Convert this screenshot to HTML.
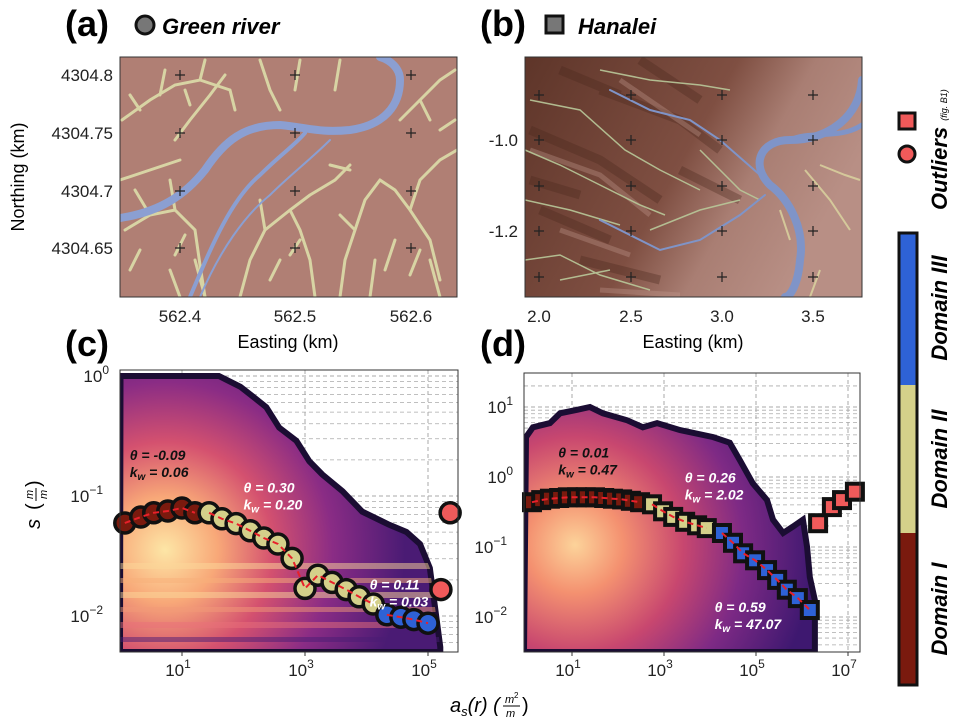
<!DOCTYPE html>
<html><head><meta charset="utf-8"><style>
body{margin:0;background:#fff;width:957px;height:725px;overflow:hidden}
svg{display:block;font-family:"Liberation Sans",sans-serif}
.lbl{font-weight:bold;font-size:36px}
.ttl{font-style:italic;font-weight:bold;font-size:22px;font-stretch:condensed}
.tk{font-size:17px;fill:#222}
.ann{font-style:italic;font-weight:bold;font-size:14px}
</style></head><body>
<svg id="fig" width="957" height="725" viewBox="0 0 957 725" xmlns="http://www.w3.org/2000/svg">
<defs>
<radialGradient id="gc" cx="165" cy="550" r="240" gradientUnits="userSpaceOnUse">
<stop offset="0" stop-color="#fde6a6"/><stop offset="0.22" stop-color="#f8a878"/><stop offset="0.45" stop-color="#d4516f"/><stop offset="0.7" stop-color="#8a2c85"/><stop offset="1" stop-color="#4a1b74"/></radialGradient>
<radialGradient id="gd" cx="575" cy="545" r="240" gradientUnits="userSpaceOnUse">
<stop offset="0" stop-color="#fcd39a"/><stop offset="0.2" stop-color="#f49170"/><stop offset="0.45" stop-color="#c8476f"/><stop offset="0.7" stop-color="#7e2a85"/><stop offset="1" stop-color="#3e1870"/></radialGradient>
<linearGradient id="mb" x1="0" y1="0" x2="1" y2="0.4"><stop offset="0" stop-color="#5e3529"/><stop offset="0.55" stop-color="#7f4f42"/><stop offset="0.75" stop-color="#a97e73"/><stop offset="1" stop-color="#b88f85"/></linearGradient>
<clipPath id="clipC"><rect x="120" y="370" width="338" height="282"/></clipPath>
<clipPath id="clipD"><rect x="524" y="373" width="336" height="279"/></clipPath>
<clipPath id="clipA"><rect x="120" y="57" width="337" height="240"/></clipPath>
<clipPath id="clipB"><rect x="525" y="57" width="337" height="240"/></clipPath>
</defs>

<text class="lbl" x="65" y="36">(a)</text>
<circle cx="145" cy="25" r="9" fill="#777" stroke="#111" stroke-width="3"/>
<text class="ttl" x="162" y="34">Green river</text>
<text class="lbl" x="480" y="36">(b)</text>
<rect x="546" y="16" width="17" height="17" fill="#777" stroke="#111" stroke-width="3"/>
<text class="ttl" x="578" y="34">Hanalei</text>
<text class="lbl" x="65" y="356">(c)</text>
<text class="lbl" x="480" y="356">(d)</text>

<g clip-path="url(#clipA)">
<rect x="120" y="57" width="337" height="240" fill="#b07f74"/>
<g fill="none" stroke="#d8d4a4" stroke-width="3" stroke-linecap="round">
<path d="M122 120 L150 100 L175 85 L200 80 L230 90 M160 95 L165 70 M200 80 L205 60 M175 140 L190 120 L210 95 L225 75 M230 90 L235 110 M140 110 L130 95 M185 90 L190 105"/>
<path d="M120 180 L150 170 L180 160 M125 230 L150 215 L175 210 L195 230 L200 265 L205 297 M150 215 L135 190 M175 210 L170 180 M140 250 L130 270 M185 235 L175 255"/>
<path d="M240 297 L250 260 L265 230 L290 210 L310 195 M265 230 L260 200 M290 210 L300 230 L310 260 L315 297 M310 195 L335 180 L350 165 M280 260 L270 280 M300 240 L290 255"/>
<path d="M340 297 L345 260 L355 230 L365 200 L380 180 M355 230 L340 215 M380 180 L395 190 L410 210 L430 240 L440 280 M410 210 L420 180 L440 160 L457 150 M395 240 L385 270 M420 250 L410 275"/>
<path d="M400 120 L420 100 L440 80 L455 70 M420 100 L430 120 M260 60 L270 90 L280 110 M300 60 L295 90 M340 60 L335 90 M205 297 L195 260 M440 297 L430 260 M180 297 L170 270 M370 297 L375 260 M440 130 L455 120 M350 170 L330 165"/>
</g>
<g fill="none" stroke="#8b9fd2" stroke-linecap="round">
<path d="M120 218 C160 212 185 195 205 170 C225 140 245 125 280 125 C310 128 320 133 350 130 C385 125 400 105 400 80 C400 68 390 60 380 57" stroke-width="8"/>
<path d="M190 297 C210 250 230 200 260 175 C280 155 295 145 305 133" stroke-width="4"/>
<path d="M200 297 C220 250 245 215 270 195 C290 175 310 160 330 140" stroke-width="2"/>
</g>
</g>
<rect x="120" y="57" width="337" height="240" fill="none" stroke="#333" stroke-width="1"/>

<g clip-path="url(#clipB)">
<rect x="525" y="57" width="337" height="240" fill="url(#mb)"/>
<g fill="none" stroke="#4a271e" stroke-width="9" opacity="0.35">
<path d="M530 130 L600 160 L660 200 M540 210 L610 240 M600 90 L680 120 L720 150 M580 260 L660 280 M640 60 L700 100 M560 70 L620 95 M530 180 L580 195 M680 170 L740 200"/>
</g>
<g fill="none" stroke="#c29b8f" stroke-width="5" opacity="0.35">
<path d="M530 150 L600 175 L650 215 M560 230 L630 255 M620 80 L700 135 M600 290 L680 295"/>
</g>
<g fill="none" stroke="#b9c99a" stroke-width="1.5" opacity="0.9">
<path d="M525 150 L560 165 L600 185 L640 205 L665 215 M525 200 L570 210 L620 225 M530 100 L580 110 L625 150 L660 170 L700 190 M600 70 L650 80 L700 85 L730 90"/>
<path d="M525 260 L560 255 L600 275 L650 290 M560 280 L610 270 M700 150 L740 190 L760 200 M650 230 L700 210 L740 200"/>
</g>
<g fill="none" stroke="#7f94c8" stroke-linecap="round">
<path d="M610 90 L650 110 L690 120 L720 140 L760 175" stroke-width="2"/>
<path d="M600 220 L630 235 L660 250 L700 240 L740 215 L765 195" stroke-width="2"/>
<path d="M862 80 C860 115 830 140 790 140 C760 140 750 165 770 185 C790 200 805 230 800 260 C798 285 790 297 785 297" stroke-width="8"/>
<path d="M790 140 C810 130 840 140 862 125" stroke-width="5"/>
</g>
<g fill="none" stroke="#dcd7a0" stroke-width="2" opacity="0.8">
<path d="M805 170 L830 200 L850 230 M820 165 L845 175 L860 180 M810 297 L820 270 M780 210 L790 240"/>
</g>
</g>
<rect x="525" y="57" width="337" height="240" fill="none" stroke="#333" stroke-width="1"/>

<g id="mapTicks"></g>
<g id="panelC"></g>
<g id="panelD"></g>

<text x="24" y="177" transform="rotate(-90 24 177)" text-anchor="middle" font-size="18">Northing (km)</text>
<text x="288" y="348" text-anchor="middle" font-size="18">Easting (km)</text>
<text x="693" y="348" text-anchor="middle" font-size="18">Easting (km)</text>
<g transform="translate(34 510) rotate(-90)">
<text x="-14" y="6" font-size="20" font-style="italic" text-anchor="middle">s</text>
<text x="0" y="6" font-size="20">(</text>
<text x="11" y="-1" font-size="11" font-style="italic">m</text>
<line x1="9" y1="2" x2="22" y2="2" stroke="#000" stroke-width="1"/>
<text x="11" y="13" font-size="11" font-style="italic">m</text>
<text x="23" y="6" font-size="20">)</text>
</g>
<g>
<text x="450" y="712" font-size="20" font-style="italic">a<tspan font-size="13" dy="4">s</tspan><tspan dy="-4">(r) (</tspan></text>
<text x="505" y="703" font-size="11" font-style="italic">m</text><text x="514" y="698" font-size="8">2</text>
<line x1="503" y1="706" x2="520" y2="706" stroke="#000"/>
<text x="506" y="717" font-size="11" font-style="italic">m</text>
<text x="522" y="712" font-size="20">)</text>
</g>

<rect x="899" y="113" width="16" height="16" fill="#f05a5a" stroke="#111" stroke-width="3"/>
<circle cx="907" cy="154" r="8" fill="#f05a5a" stroke="#111" stroke-width="3"/>
<text transform="translate(947 210) rotate(-90)" class="ttl" font-size="18">Outliers <tspan font-size="9" font-weight="normal">(fig. B1)</tspan></text>
<g>
<rect x="899" y="233" width="18" height="152" fill="#2e62d6"/>
<rect x="899" y="385" width="18" height="148" fill="#d4d08a"/>
<rect x="899" y="533" width="18" height="152" fill="#7a1a0e"/>
<rect x="899" y="233" width="18" height="452" fill="none" stroke="#111" stroke-width="3"/>
</g>
<text transform="translate(947 308) rotate(-90)" text-anchor="middle" class="ttl" font-size="18">Domain III</text>
<text transform="translate(947 459) rotate(-90)" text-anchor="middle" class="ttl" font-size="18">Domain II</text>
<text transform="translate(947 609) rotate(-90)" text-anchor="middle" class="ttl" font-size="18">Domain I</text>
</svg>
<script>
const cLogX = [0.07,0.33,0.54,0.77,1.0,1.21,1.44,1.65,1.88,2.11,2.33,2.56,2.79,3.0,3.21,3.44,3.67,3.88,4.11,4.33,4.56,4.77,5.0,5.21,5.36];
const cLogY = [-1.225,-1.175,-1.14,-1.125,-1.10,-1.14,-1.14,-1.19,-1.23,-1.29,-1.35,-1.40,-1.52,-1.77,-1.66,-1.72,-1.78,-1.84,-1.90,-1.99,-2.01,-2.03,-2.06,-1.78,-1.14];
const cDomain = [1,1,1,1,1,1,2,2,2,2,2,2,2,2,2,2,2,2,2,3,3,3,3,0,0];
const cEnvX = [0,1.6,1.95,2.15,2.37,2.58,2.86,3.07,3.28,3.61,3.93,4.37,4.65,4.87,5.03,5.2,5.2];
const cEnvY = [0,0,-0.09,-0.17,-0.26,-0.43,-0.54,-0.71,-0.82,-0.96,-1.13,-1.24,-1.30,-1.40,-1.60,-2.26,-2.4];
const dLogX = [0.13,0.33,0.52,0.72,0.91,1.11,1.3,1.5,1.7,1.89,2.09,2.28,2.48,2.74,2.98,3.2,3.46,3.72,3.93,4.26,4.5,4.72,4.98,5.24,5.46,5.67,5.91,6.17,6.35,6.65,6.87,7.15];
const dLogY = [-0.36,-0.33,-0.31,-0.30,-0.29,-0.29,-0.29,-0.29,-0.30,-0.31,-0.32,-0.34,-0.36,-0.39,-0.49,-0.57,-0.64,-0.69,-0.73,-0.8,-0.94,-1.09,-1.19,-1.33,-1.47,-1.61,-1.73,-1.9,-0.66,-0.43,-0.33,-0.21];
const dDomain = [1,1,1,1,1,1,1,1,1,1,1,1,1,2,2,2,2,2,2,3,3,3,3,3,3,3,3,3,0,0,0,0];
const dEnvX = [0,0.15,0.52,0.74,1.11,1.39,1.67,2.2,2.54,2.85,3.35,4.07,4.43,4.65,4.93,5.24,5.37,5.59,5.8,6.02,6.11,6.17,6.28,6.28];
const dEnvY = [0.57,0.71,0.77,0.91,0.96,1.0,0.91,0.81,0.71,0.77,0.67,0.57,0.49,0.24,-0.09,-0.33,-0.61,-0.8,-0.71,-0.61,-1.0,-1.43,-1.76,-2.6];
const cXTicks = [1,3,5], dXTicks = [1,3,5,7];
const cYTicks = [0,-1,-2], dYTicks = [1,0,-1,-2];
const annC = [["θ = -0.09","k","= 0.06",0.15,-0.7,"#111"],["θ = 0.30","k","= 0.20",2.0,-0.97,"#fff"],["θ = 0.11","k","= 0.03",4.05,-1.78,"#fff"]];
const annD = [["θ = 0.01","k","= 0.47",0.7,0.28,"#111"],["θ = 0.26","k","= 2.02",3.45,-0.08,"#fff"],["θ = 0.59","k","= 47.07",4.1,-1.93,"#fff"]];

const NS='http://www.w3.org/2000/svg';
function mk(tag,attrs,parent){const e=document.createElementNS(NS,tag);for(const k in attrs)e.setAttribute(k,attrs[k]);parent.appendChild(e);return e;}
const colors={0:'#f05a5a',1:'#7a1a0e',2:'#d4d08a',3:'#2e62d6'};
const defs=document.querySelector('defs');

function panel(g,o){
  const X=v=>o.x0+(v-o.lx0)*o.sx, Y=v=>o.y0-(v-o.ly0)*o.sy;
  for(let d=Math.floor(o.lyMin);d<=Math.ceil(o.lyMax);d++){
    for(let m=1;m<10;m++){const lv=d+Math.log10(m);if(lv<o.lyMin||lv>o.lyMax)continue;
      const l=mk('line',{x1:o.L,x2:o.R,y1:Y(lv),y2:Y(lv),stroke:'#aaa','stroke-width':m==1?1:0.8,'stroke-dasharray':'4 3'},g);
      
      }
  }
  o.xt.forEach(t=>{const l=mk('line',{x1:X(t),x2:X(t),y1:o.T,y2:o.B,stroke:'#aaa','stroke-dasharray':'4 3'},g);
    
    });
  let pts=o.envX.map((v,i)=>X(v)+','+Y(o.envY[i]));
  pts.push(X(o.envX[o.envX.length-1])+','+o.B, o.L+','+o.B);
  const cp=mk('clipPath',{id:o.id+'env'},defs);
  mk('polygon',{points:pts.join(' ')},cp);
  const cg=mk('g',{'clip-path':o.clip},g);
  const hm=mk('polygon',{points:pts.join(' '),fill:o.grad,stroke:'#1b0d33','stroke-width':6,'stroke-linejoin':'miter'},cg);
  
  
  if(o.stripes){const sg=mk('g',{'clip-path':'url(#'+o.id+'env)'},cg);
    o.stripes.forEach(s=>{const r=mk('rect',{x:o.L,y:s[0],width:s[2],height:s[1],fill:s[3],opacity:0.5},sg);
    
    });}
  o.lx.forEach((v,i)=>{let e;
    if(o.shape=='c') e=mk('circle',{cx:X(v),cy:Y(o.ly[i]),r:10,fill:colors[o.dom[i]],stroke:'#111','stroke-width':3.5},g);
    else e=mk('rect',{x:X(v)-8,y:Y(o.ly[i])-8,width:16,height:16,fill:colors[o.dom[i]],stroke:'#111','stroke-width':4},g);
    
    });
  [1,2,3].forEach(dm=>{const idx=o.dom.map((d,i)=>d==dm?i:-1).filter(i=>i>=0);
    const pl=mk('polyline',{points:idx.map(i=>X(o.lx[i])+','+Y(o.ly[i])).join(' '),fill:'none',stroke:'#e8202a','stroke-width':2,'stroke-dasharray':'6 4'},g);
    
    });
  o.ann.forEach(a=>{const t=mk('text',{x:X(a[3]),y:Y(a[4]),class:'ann',fill:a[5]},g);t.textContent=a[0];
    
    
    const t2=mk('text',{x:X(a[3]),y:Y(a[4])+17,class:'ann',fill:a[5]},g);
    t2.innerHTML='k<tspan font-size="10" dy="3">w</tspan><tspan dy="-3"> '+a[2]+'</tspan>';
    
    });
  const fr=mk('rect',{x:o.L,y:o.T,width:o.R-o.L,height:o.B-o.T,fill:'none',stroke:'#333'},g);
  
  
  o.xt.forEach(t=>{const tx=mk('text',{x:X(t)-4,y:o.B+24,class:'tk','text-anchor':'middle'},g);
    tx.innerHTML='10<tspan font-size="12" dy="-8">'+t+'</tspan>';
    
    
    mk('line',{x1:X(t),x2:X(t),y1:o.B,y2:o.B+4,stroke:'#333'},g);});
  o.yt.forEach(t=>{const tx=mk('text',{x:o.L-4-(t<0?13:7),y:Y(t)+6,class:'tk','text-anchor':'end'},g);
    tx.innerHTML='10<tspan font-size="12" dy="-8">'+(t<0?'−'+(-t):t)+'</tspan>';
    
    });
}
panel(document.getElementById('panelC'),{id:'pc',x0:120.5,lx0:0,sx:61.5,y0:496,ly0:-1,sy:120,L:120,R:458,T:370,B:652,lyMin:-2.3,lyMax:0.01,
  xt:cXTicks,yt:cYTicks,envX:cEnvX,envY:cEnvY,grad:'url(#gc)',clip:'url(#clipC)',lx:cLogX,ly:cLogY,dom:cDomain,shape:'c',ann:annC,
  stripes:[[563,6,340,'#fbd89a'],[578,5,340,'#f7b07a'],[592,6,340,'#fbd89a'],[607,5,340,'#f29a78'],[622,6,340,'#e9707a'],[637,5,340,'#4a1b74']]});
panel(document.getElementById('panelD'),{id:'pd',x0:526,lx0:0,sx:46,y0:477,ly0:0,sy:70,L:524,R:860,T:373,B:652,lyMin:-2.5,lyMax:1.47,
  xt:dXTicks,yt:dYTicks,envX:dEnvX,envY:dEnvY,grad:'url(#gd)',clip:'url(#clipD)',lx:dLogX,ly:dLogY,dom:dDomain,shape:'s',ann:annD});

const aXT=[[180,'562.4'],[295,'562.5'],[411,'562.6']], aYT=[[75,'4304.8'],[133,'4304.75'],[191,'4304.7'],[248,'4304.65']];
const bXT=[[539,'2.0'],[631,'2.5'],[722,'3.0'],[813,'3.5']], bYT=[[140,'-1.0'],[231,'-1.2']], bRows=[95,140,186,231,277];
const mt=document.getElementById('mapTicks');
function cross(x,y){const p=mk('path',{d:`M${x-5} ${y}H${x+5}M${x} ${y-5}V${y+5}`,stroke:'#222','stroke-width':1.2},mt);
  
  }
aXT.forEach(a=>{const t=mk('text',{x:a[0],y:322,class:'tk','text-anchor':'middle'},mt);t.textContent=a[1];
  
  
  aYT.forEach(b=>cross(a[0],b[0]));});
aYT.forEach(b=>{const t=mk('text',{x:113,y:b[0]+6,class:'tk','text-anchor':'end'},mt);t.textContent=b[1];
  
  });
bXT.forEach(a=>{const t=mk('text',{x:a[0],y:322,class:'tk','text-anchor':'middle'},mt);t.textContent=a[1];
  
  
  bRows.forEach(y=>cross(a[0],y));});
bYT.forEach(b=>{const t=mk('text',{x:518,y:b[0]+6,class:'tk','text-anchor':'end'},mt);t.textContent=b[1];
  
  });
</script>
</body></html>
